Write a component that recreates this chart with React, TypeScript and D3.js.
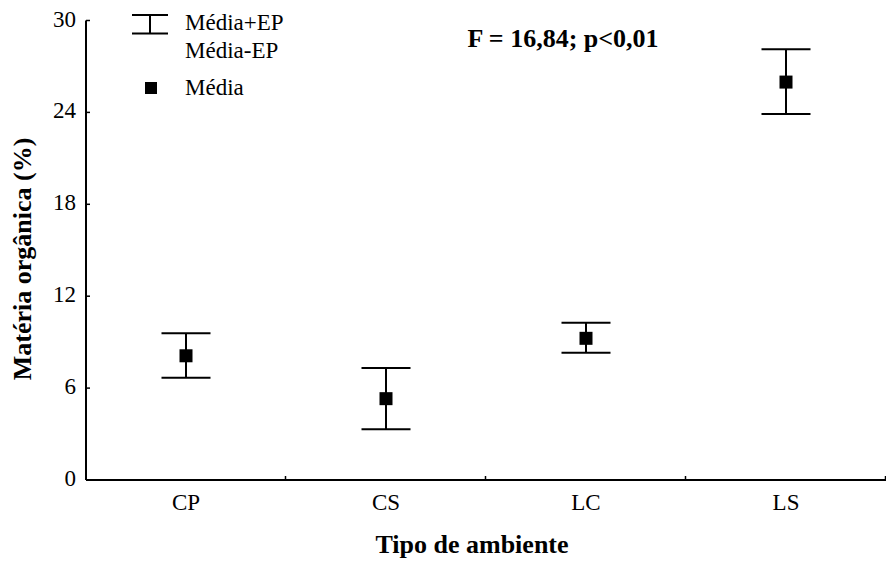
import React from "react";
import * as d3 from "d3";

const categories = ["CP", "CS", "LC", "LS"];
const means = [8.11, 5.31, 9.25, 25.98];
const upper = [9.58, 7.31, 10.27, 28.13];
const lower = [6.68, 3.31, 8.31, 23.89];
const yTicks = [0, 6, 12, 18, 24, 30];

const W = 886;
const H = 561;
const left = 86;
const right = 886;
const top = 20.5;
const bottom = 480;
const font = "Liberation Serif, Tinos, Times New Roman, DejaVu Serif, serif";

export default function App() {
  const x = d3.scaleBand<string>().domain(categories).range([left, right]);
  const y = d3.scaleLinear().domain([0, 30]).range([bottom, top]);
  const cap = 24.5;
  const sq = 13;
  const boundaries = d3.range(1, categories.length + 1).map((i) => left + i * x.bandwidth());
  const normal = { fontFamily: font, fontSize: 23 };
  const bold = { fontFamily: font, fontSize: 26, fontWeight: "bold" as const };

  return (
    <svg width={W} height={H} style={{ position: "absolute", left: 0, top: 0, background: "#fff", fontFamily: font }}>
      <line x1={left} x2={left} y1={top} y2={bottom} stroke="#000" strokeWidth={2} />
      <line x1={left} x2={right} y1={bottom} y2={bottom} stroke="#000" strokeWidth={2} />
      {yTicks.map((t) => (
        <g key={t}>
          <line x1={left} x2={left + 4} y1={y(t)} y2={y(t)} stroke="#000" strokeWidth={1.5} />
          <text x={76} y={y(t) + 6} textAnchor="end" style={normal}>
            {t}
          </text>
        </g>
      ))}
      {boundaries.map((b, i) => (
        <line key={i} x1={b - 0.5} x2={b - 0.5} y1={bottom} y2={bottom - 4} stroke="#000" strokeWidth={1.5} />
      ))}
      {categories.map((c) => (
        <text key={c} x={x(c)! + x.bandwidth() / 2} y={510} textAnchor="middle" style={normal}>
          {c}
        </text>
      ))}
      {categories.map((c, i) => {
        const cx = x(c)! + x.bandwidth() / 2;
        return (
          <g key={c}>
            <line x1={cx} x2={cx} y1={y(upper[i])} y2={y(lower[i])} stroke="#000" strokeWidth={2} />
            <line x1={cx - cap} x2={cx + cap} y1={y(upper[i])} y2={y(upper[i])} stroke="#000" strokeWidth={2} />
            <line x1={cx - cap} x2={cx + cap} y1={y(lower[i])} y2={y(lower[i])} stroke="#000" strokeWidth={2} />
            <rect x={cx - sq / 2} y={y(means[i]) - sq / 2} width={sq} height={sq} fill="#000" />
          </g>
        );
      })}
      <line x1={132} x2={168} y1={15} y2={15} stroke="#000" strokeWidth={2} />
      <line x1={132} x2={168} y1={33.5} y2={33.5} stroke="#000" strokeWidth={2} />
      <line x1={150} x2={150} y1={15} y2={33.5} stroke="#000" strokeWidth={2} />
      <text x={185} y={30} style={normal}>Média+EP</text>
      <text x={185} y={58} style={normal}>Média-EP</text>
      <rect x={145} y={82} width={12} height={12} fill="#000" />
      <text x={185} y={95} style={normal}>Média</text>
      <text x={563} y={47} textAnchor="middle" style={bold}>
        F = 16,84; p&lt;0,01
      </text>
      <text transform={`translate(31,259) rotate(-90)`} textAnchor="middle" style={bold}>
        Matéria orgânica (%)
      </text>
      <text x={472} y={553} textAnchor="middle" style={bold}>
        Tipo de ambiente
      </text>
    </svg>
  );
}
